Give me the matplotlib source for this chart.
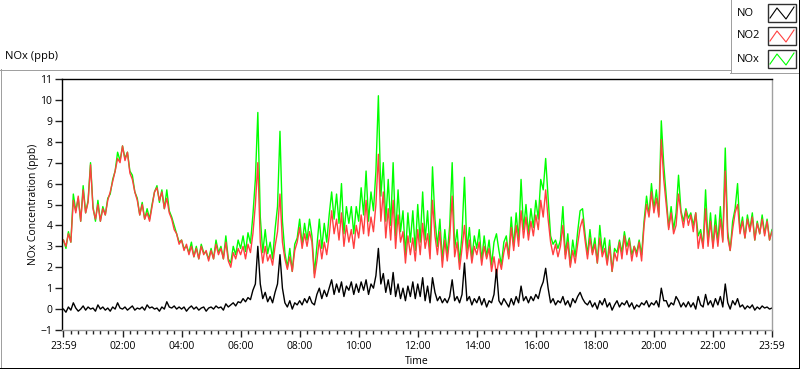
import numpy as np
import matplotlib
matplotlib.use("Agg")
import matplotlib.pyplot as plt
from matplotlib.lines import Line2D
from matplotlib.patches import Rectangle

plt.rcParams["font.family"] = ["Open Sans", "DejaVu Sans"]

# minutes since 23:59, one reading every 5 minutes
minutes = np.arange(0, 1441, 5)

no2 = [
    3.3, 3.0, 3.6, 3.2, 5.2, 4.6, 5.4, 4.2, 5.7, 4.6, 5.1, 6.9,
    4.8, 4.3, 5.0, 4.2, 4.8, 4.5, 5.2, 5.6, 6.1, 6.6, 7.2, 7.0,
    7.8, 7.1, 7.5, 6.5, 6.2, 5.6, 5.2, 4.5, 5.0, 4.3, 4.6, 4.2,
    4.9, 5.6, 5.8, 5.2, 5.6, 4.8, 5.3, 4.6, 4.3, 3.8, 3.6, 3.1,
    3.3, 2.8, 3.1, 2.6, 3.0, 2.5, 2.9, 2.4, 3.0, 2.6, 2.8, 2.3,
    2.8, 2.4, 3.1, 2.6, 2.9, 2.4, 3.2, 2.3, 2.0, 2.7, 2.4, 2.9,
    2.6, 3.0, 2.4, 3.1, 2.7, 3.6, 5.0, 7.0, 3.2, 2.2, 3.0, 2.3,
    2.6, 2.1, 3.0, 3.7, 5.5, 3.2, 2.4, 1.9, 2.5, 1.8, 2.8, 3.2,
    3.9, 2.9, 3.6, 3.0, 3.7, 3.2, 1.5, 2.3, 3.3, 2.4, 3.2, 2.6,
    3.5, 4.7, 3.6, 4.3, 3.3, 4.6, 3.0, 4.0, 3.2, 3.8, 2.9, 4.0,
    3.4, 4.5, 3.6, 5.2, 3.5, 4.4, 3.7, 5.0, 7.4, 4.2, 5.6, 3.4,
    4.8, 3.3, 5.2, 2.9, 4.5, 3.2, 3.7, 2.2, 3.5, 2.6, 3.4, 2.3,
    3.8, 2.6, 4.1, 2.9, 3.6, 2.4, 5.2, 3.5, 2.6, 3.7, 2.0, 3.3,
    2.3, 3.4, 5.4, 2.5, 3.2, 1.9, 2.9, 4.0, 2.4, 3.3, 2.2, 3.0,
    2.6, 3.2, 2.1, 3.0, 2.4, 2.9, 1.8, 2.5, 1.6, 2.4, 1.9, 2.7,
    3.2, 2.4, 3.9, 2.8, 4.0, 3.0, 4.7, 3.4, 4.4, 3.3, 4.2, 3.5,
    4.5, 3.8, 5.2, 4.4, 5.7, 4.3, 3.2, 2.6, 3.1, 2.5, 3.0, 4.0,
    2.4, 3.2, 2.0, 2.8, 2.2, 3.1, 3.9, 4.3, 3.3, 2.4, 3.4, 2.6,
    3.1, 2.2, 3.4, 2.5, 2.9, 2.1, 3.0, 1.8, 2.7, 2.3, 3.2, 2.4,
    3.5, 2.6, 3.3, 2.3, 3.0, 2.5, 3.2, 2.3, 4.0, 5.0, 4.4, 5.6,
    4.6, 5.3, 4.4, 8.1, 6.2, 5.0, 3.8, 4.6, 3.6, 4.0, 5.5, 4.6,
    3.9, 4.7, 4.0, 4.5, 3.7, 4.6, 2.9, 3.6, 2.9, 4.8, 3.0, 4.2,
    2.9, 4.0, 3.0, 4.3, 3.2, 6.6, 3.4, 2.8, 3.8, 4.6, 5.0, 3.6,
    4.2, 3.4, 4.3, 3.7, 4.4, 3.3, 4.1, 3.6, 4.3, 3.5, 4.2, 3.3,
    3.7,
]

no = [
    0.0, -0.15, 0.1, -0.05, 0.3, 0.05, -0.1, 0.0, 0.15, -0.05, 0.1, 0.0,
    0.05, -0.1, 0.2, 0.0, 0.1, -0.05, 0.05, -0.1, 0.1, 0.0, 0.3, 0.05,
    0.0, 0.1, -0.05, 0.05, 0.15, -0.05, 0.05, 0.0, 0.1, -0.05, 0.2, 0.05,
    0.1, 0.0, 0.05, -0.1, 0.1, 0.0, 0.35, 0.1, 0.05, 0.15, 0.0, 0.1,
    0.0, 0.1, -0.1, 0.05, 0.15, 0.0, 0.1, -0.05, 0.05, 0.1, -0.1, 0.05,
    0.1, 0.0, 0.15, 0.05, 0.1, -0.05, 0.25, 0.1, 0.2, 0.3, 0.15, 0.35,
    0.3, 0.5, 0.35, 0.55, 0.45, 0.9, 1.2, 3.0, 1.2, 0.5, 0.8, 0.35,
    0.6, 0.3, 0.8, 1.2, 2.6, 1.0, 0.3, 0.1, 0.4, 0.0, 0.3, 0.2,
    0.4, 0.2, 0.5, 0.3, 0.6, 0.3, 0.2, 0.7, 1.0, 0.5, 0.9, 0.6,
    1.0, 1.4, 0.7, 1.2, 0.8, 1.3, 0.6, 1.1, 0.9, 1.3, 0.7, 1.2,
    0.8, 1.3, 0.9, 1.4, 0.7, 1.2, 1.0, 1.6, 2.9, 1.2, 1.7, 0.8,
    1.4, 0.7, 1.75, 0.6, 1.2, 0.5, 1.0, 0.4, 1.1, 0.6, 1.3, 0.5,
    1.2, 0.6, 1.5, 0.4, 1.1, 0.3, 1.5, 0.8, 0.4, 0.6, 0.3, 0.5,
    0.3, 0.6, 1.4, 0.4, 0.6, 0.3, 0.7, 2.2, 0.4, 0.6, 0.2, 0.5,
    0.3, 0.6, 0.2, 0.5, 0.1, 0.4, 0.3, 0.7, 1.9, 0.4, 0.2, 0.5,
    0.3, 0.1, 0.5, 0.2, 0.6, 0.3, 1.1, 0.4, 0.6, 0.3, 0.6, 0.4,
    0.7, 0.5, 1.0, 1.3, 1.95, 1.0, 0.3, 0.5, 0.2, 0.4, 0.3, 0.6,
    0.2, 0.4, 0.1, 0.5, 0.3, 0.6, 0.8, 0.5, 0.3, 0.2, 0.4, 0.1,
    0.3, 0.0, 0.4, 0.2, 0.5, 0.1, 0.3, -0.05, 0.2, 0.4, 0.1, 0.3,
    0.2, 0.4, 0.1, 0.3, 0.0, 0.2, 0.1, 0.3, 0.2, 0.4, 0.1, 0.3,
    0.2, 0.4, 0.1, 1.0, 0.4, 0.4, 0.1, 0.3, 0.2, 0.6, 0.4, 0.1,
    0.3, 0.1, 0.35, 0.1, 0.3, 0.0, 0.6, 0.2, 0.1, 0.7, 0.2, 0.4,
    0.1, 0.5, 0.2, 0.6, 0.1, 1.2, 0.3, 0.0, 0.4, 0.2, 0.5, 0.1,
    0.2, 0.0, 0.15, 0.05, 0.2, -0.05, 0.1, 0.0, 0.15, 0.05, 0.1, 0.0,
    0.05,
]

nox = [
    3.3, 2.9, 3.7, 3.2, 5.5, 4.7, 5.3, 4.2, 5.9, 4.6, 5.2, 7.0,
    4.9, 4.2, 5.2, 4.2, 4.9, 4.5, 5.3, 5.5, 6.2, 6.6, 7.5, 7.1,
    7.8, 7.2, 7.5, 6.6, 6.4, 5.6, 5.3, 4.5, 5.1, 4.3, 4.8, 4.3,
    5.0, 5.6, 5.9, 5.1, 5.7, 4.8, 5.7, 4.7, 4.4, 4.0, 3.6, 3.2,
    3.3, 2.9, 3.0, 2.7, 3.2, 2.5, 3.0, 2.4, 3.1, 2.7, 2.7, 2.4,
    2.9, 2.4, 3.3, 2.7, 3.0, 2.4, 3.5, 2.4, 2.2, 3.0, 2.6, 3.3,
    2.9, 3.5, 2.75, 3.65, 3.15, 4.5, 6.2, 9.4, 4.4, 2.7, 3.8, 2.65,
    3.2, 2.4, 3.8, 4.9, 8.5, 4.2, 2.7, 2.0, 2.9, 1.8, 3.1, 3.4,
    4.3, 3.1, 4.1, 3.3, 4.3, 3.5, 1.7, 3.0, 4.3, 2.9, 4.1, 3.2,
    4.5, 5.6, 4.3, 5.5, 4.1, 6.0, 3.6, 4.9, 4.1, 4.9, 3.6, 4.9,
    4.2, 5.8, 4.5, 6.6, 4.2, 5.6, 4.7, 6.6, 10.2, 5.4, 7.0, 4.2,
    6.2, 4.0, 7.0, 3.5, 5.7, 3.7, 4.7, 2.6, 4.6, 3.2, 4.7, 2.8,
    5.0, 3.2, 5.6, 3.3, 4.7, 2.7, 6.8, 4.3, 3.0, 4.3, 2.3, 3.8,
    2.6, 4.0, 7.0, 2.9, 3.8, 2.2, 3.6, 6.3, 2.8, 3.9, 2.4, 3.5,
    2.9, 3.8, 2.3, 3.5, 2.5, 3.3, 2.1, 3.2, 3.6, 2.8, 2.1, 3.2,
    3.5, 2.5, 4.4, 3.0, 4.6, 3.3, 6.2, 3.8, 5.0, 3.6, 4.8, 3.9,
    5.2, 4.3, 6.2, 5.7, 7.2, 5.3, 3.5, 3.1, 3.3, 2.9, 3.3, 4.9,
    2.6, 3.6, 2.1, 3.3, 2.5, 3.7, 4.7, 4.8, 3.6, 2.6, 3.8, 2.7,
    3.4, 2.2, 4.0, 2.7, 3.4, 2.2, 3.3, 1.8, 2.9, 2.7, 3.3, 2.7,
    3.7, 3.0, 3.4, 2.6, 3.0, 2.7, 3.3, 2.6, 4.2, 5.4, 4.5, 6.0,
    4.8, 5.7, 4.5, 9.0, 6.9, 5.4, 3.9, 4.9, 3.8, 4.6, 6.4, 4.7,
    4.2, 4.8, 4.35, 4.6, 4.0, 4.6, 3.5, 3.8, 3.0, 5.7, 3.2, 4.6,
    3.0, 4.5, 3.2, 4.9, 3.3, 7.7, 3.7, 2.8, 4.2, 4.8, 6.0, 3.7,
    4.4, 3.4, 4.5, 3.8, 4.6, 3.3, 4.2, 3.6, 4.5, 3.6, 4.3, 3.3,
    3.8,
]

tick_hours = np.arange(0, 25, 2)
tick_labels = ["23:59", "02:00", "04:00", "06:00", "08:00", "10:00", "12:00",
               "14:00", "16:00", "18:00", "20:00", "22:00", "23:59"]

W, H = 800, 369
FS = 7.5
fig = plt.figure(figsize=(W / 100, H / 100), dpi=100)


def fx(px):
    return px / W


def fy(py):
    return 1 - py / H


def frame_line(x0, y0, x1, y1, color):
    fig.add_artist(Line2D([fx(x0), fx(x1)], [fy(y0), fy(y1)],
                          transform=fig.transFigure, color=color, lw=0.72))


ax = fig.add_axes([fx(62), fy(330), (772 - 62) / W, (330 - 79) / H])
hours = minutes / 60.0
ax.plot(hours, nox, color="#00ff00", lw=1.0)
ax.plot(hours, no2, color="#ff4040", lw=1.0)
ax.plot(hours, no, color="black", lw=1.0)

ax.set_xlim(-0.05, 24)
ax.set_ylim(-1, 11)
ax.set_yticks(range(-1, 12))
ax.set_xticks(tick_hours)
ax.set_xticklabels(tick_labels)
ax.set_xticks(np.arange(0, 24.01, 0.25), minor=True)
ax.tick_params(axis="both", which="major", labelsize=FS, length=5, width=1,
               color="#202020", pad=2)
ax.tick_params(axis="x", which="minor", length=3, width=1, color="#202020")
ax.tick_params(axis="x", which="major", length=5, pad=3)

ax.spines["left"].set_color("black")
ax.spines["top"].set_color("black")
ax.spines["right"].set_color("#a0a0a0")
ax.spines["bottom"].set_color("#a0a0a0")
for s in ax.spines.values():
    s.set_linewidth(1)

ax.set_xlabel("Time", fontsize=FS, labelpad=3)
ax.set_ylabel("NOx Concentration (ppb)", fontsize=FS, labelpad=1)

fig.text(fx(5), fy(57), "NOx (ppb)", fontsize=8, va="center", ha="left")

# panel border
frame_line(0, 69.5, 730, 69.5, "#a0a0a0")
frame_line(0.5, 69, 0.5, 367, "#a0a0a0")
frame_line(0, 367.5, 800, 367.5, "black")
frame_line(798.5, 0, 798.5, 368, "black")
frame_line(730.5, 0, 730.5, 72, "#a0a0a0")
frame_line(730, 72.5, 798, 72.5, "#a0a0a0")

# legend
legend_names = ["NO", "NO2", "NOx"]
legend_colors = ["black", "#ff4040", "#00ff00"]
for i, (name, col) in enumerate(zip(legend_names, legend_colors)):
    top = 4 + 23 * i
    fig.text(fx(737), fy(top + 9), name, fontsize=8, va="center", ha="left")
    fig.add_artist(Rectangle((fx(768), fy(top + 18)), 28 / W, 18 / H,
                             transform=fig.transFigure, facecolor="white",
                             edgecolor="#303030", lw=1))
    zx = [770, 777, 786, 794]
    zy = [top + 14, top + 4, top + 15, top + 3]
    fig.add_artist(Line2D([fx(v) for v in zx], [fy(v) for v in zy],
                          transform=fig.transFigure, color=col, lw=0.8))

fig.savefig("out.png", dpi=100)
